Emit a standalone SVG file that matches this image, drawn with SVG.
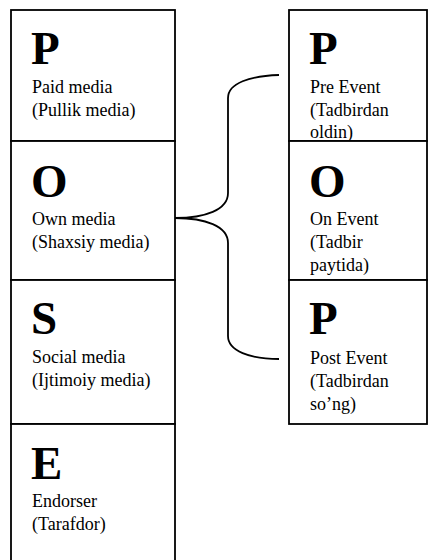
<svg xmlns="http://www.w3.org/2000/svg" width="428" height="560" viewBox="0 0 428 560">
<style>
.box{fill:#fff;stroke:#000;stroke-width:1.8}
.big{font-family:"Liberation Serif",serif;font-weight:bold;font-size:47px;fill:#000}
.t{font-family:"Liberation Serif",serif;font-size:18px;fill:#000}
.c{fill:none;stroke:#000;stroke-width:1.8}
</style>
<defs>
<clipPath id="clipPre"><rect x="289" y="10" width="138" height="130"/></clipPath>
<clipPath id="clipOn"><rect x="289" y="141" width="138" height="135"/></clipPath>
</defs>
<rect width="428" height="560" fill="#fff"/>
<g id="paid">
<rect class="box" x="11" y="10" width="164" height="131"/>
<text class="big" x="31" y="64">P</text>
<text class="t" x="32" y="93">Paid media</text>
<text class="t" x="32" y="116">(Pullik media)</text>
</g>
<g id="own">
<rect class="box" x="11" y="141" width="164" height="139"/>
<text class="big" x="31" y="197">O</text>
<text class="t" x="32" y="225">Own media</text>
<text class="t" x="32" y="248">(Shaxsiy media)</text>
</g>
<g id="social">
<rect class="box" x="11" y="280" width="164" height="144"/>
<text class="big" x="31" y="334">S</text>
<text class="t" x="32" y="363">Social media</text>
<text class="t" x="32" y="386">(Ijtimoiy media)</text>
</g>
<g id="endorser">
<rect class="box" x="11" y="424" width="164" height="140"/>
<text class="big" x="31" y="479">E</text>
<text class="t" x="32" y="507">Endorser</text>
<text class="t" x="32" y="530">(Tarafdor)</text>
</g>
<g id="pre">
<rect class="box" x="289" y="10" width="138" height="131"/>
<g clip-path="url(#clipPre)">
<text class="big" x="309" y="64">P</text>
<text class="t" x="310" y="93">Pre Event</text>
<text class="t" x="310" y="116">(Tadbirdan</text>
<text class="t" x="310" y="138">oldin)</text>
</g>
</g>
<g id="on">
<rect class="box" x="289" y="141" width="138" height="139"/>
<g clip-path="url(#clipOn)">
<text class="big" x="309" y="197">O</text>
<text class="t" x="310" y="225">On Event</text>
<text class="t" x="310" y="248">(Tadbir</text>
<text class="t" x="310" y="271">paytida)</text>
</g>
</g>
<g id="post">
<rect class="box" x="289" y="280" width="138" height="144"/>
<text class="big" x="309" y="334">P</text>
<text class="t" x="310" y="364">Post Event</text>
<text class="t" x="310" y="387">(Tadbirdan</text>
<text class="t" x="310" y="410">so’ng)</text>
</g>
<g id="connectors">
<path class="c" d="M175,218 C205,218 228,210 228,193 L228,98 C228,83 250,76 279,75"/>
<path class="c" d="M175,218 C205,218 228,226 228,243 L228,336 C228,351 250,359 279,359"/>
</g>
</svg>
